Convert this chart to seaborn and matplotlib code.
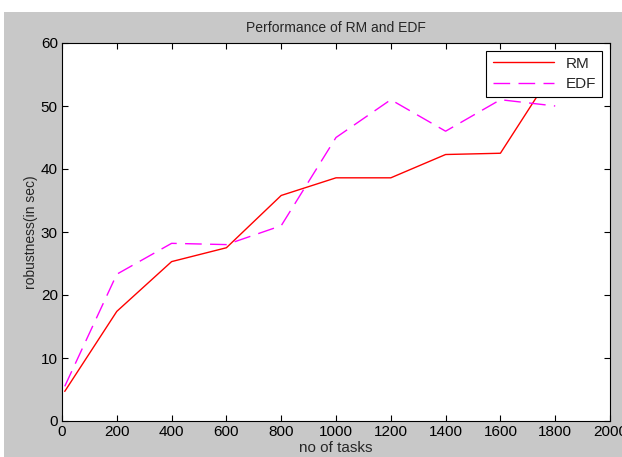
import numpy as np
import pandas as pd
import seaborn as sns
import matplotlib.pyplot as plt
from matplotlib.patches import Rectangle

# data
tasks = [10, 200, 400, 600, 800, 1000, 1200, 1400, 1600, 1800]
rm = [4.7, 17.4, 25.3, 27.5, 35.8, 38.6, 38.6, 42.3, 42.5, 56.0]
edf = [5.5, 23.3, 28.2, 28.0, 31.0, 45.0, 51.0, 46.0, 51.0, 50.0]
xticks = list(range(0, 2001, 200))
yticks = list(range(0, 61, 10))

sns.set_style("ticks")
plt.rcParams['font.family'] = ['Liberation Sans', 'DejaVu Sans']

fig = plt.figure(figsize=(6.22, 4.57), dpi=100, facecolor='white')
# grey matlab-like figure background (white strip on top/left)
fig.patches.append(Rectangle((4 / 622, 0), 1, (457 - 12) / 457, transform=fig.transFigure,
                             facecolor='#c8c8c8', edgecolor='none', zorder=-10))
ax = fig.add_axes([62 / 622, 36 / 457, 548 / 622, 378 / 457])
ax.set_facecolor('white')

sns.lineplot(x=tasks, y=rm, ax=ax, color='red', linewidth=1, label='RM')
sns.lineplot(x=tasks, y=edf, ax=ax, color='magenta', linewidth=1, label='EDF',
             linestyle=(0, (12, 6)))

ax.set_xlim(0, 2000)
ax.set_ylim(0, 60)
ax.set_xticks(xticks)
ax.set_yticks(yticks)
ax.tick_params(direction='in', top=True, right=True, length=4, labelsize=11, colors='black', pad=3)
for s in ax.spines.values():
    s.set_visible(True)
    s.set_color('black')
    s.set_linewidth(0.8)

ax.set_title("Performance of RM and EDF", fontsize=10, pad=8)
ax.set_xlabel("no of tasks", fontsize=11, labelpad=1)
ax.set_ylabel("robustness(in sec)", fontsize=10, labelpad=2)

leg = ax.legend(loc='upper right', fontsize=11, fancybox=False, framealpha=1,
                edgecolor='black', borderaxespad=0.5, handlelength=4,
                borderpad=0.4, labelspacing=0.4)
leg.get_frame().set_linewidth(0.8)

fig.savefig('out.png', dpi=100, facecolor=fig.get_facecolor())
